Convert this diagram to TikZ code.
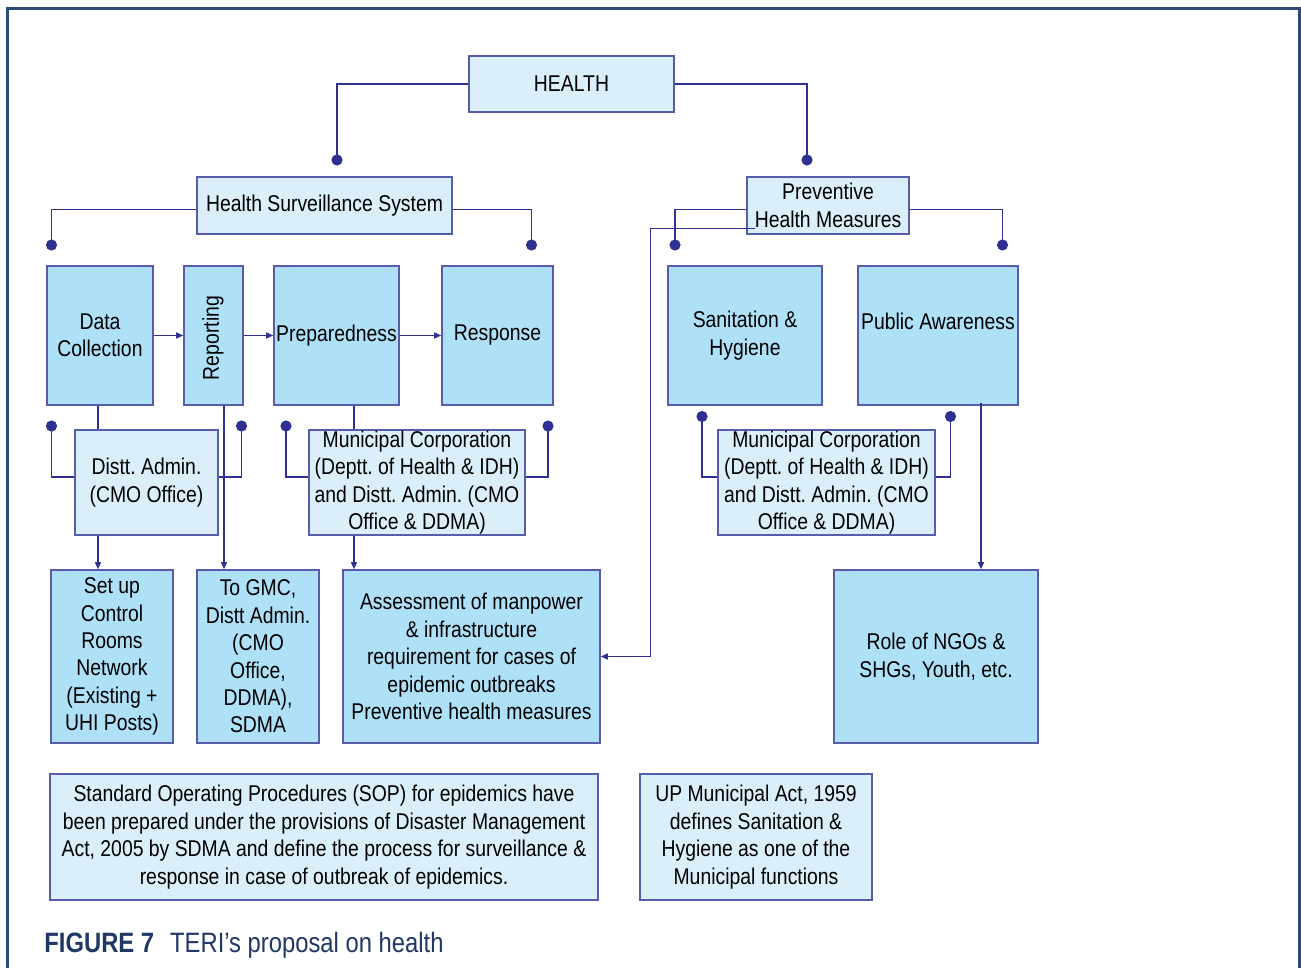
\documentclass[tikz,border=0pt]{standalone}
\usepackage{fontspec}
\setmainfont{Liberation Sans}[FakeStretch=0.85]
\frenchspacing
\usetikzlibrary{arrows.meta}
\definecolor{framecol}{RGB}{44,74,118}
\definecolor{linecol}{RGB}{46,49,146}
\definecolor{edgecol}{RGB}{88,92,172}
\definecolor{palefill}{RGB}{219,239,251}
\definecolor{bluefill}{RGB}{174,225,248}
\definecolor{capcol}{RGB}{31,56,100}
\begin{document}
\begin{tikzpicture}[x=0.5pt, y=-0.5pt, >={Triangle[length=3.5pt,width=3pt]},
    font=\fontsize{11.4}{13.7}\selectfont,
    box/.style={draw=edgecol, line width=0.8pt, align=center, inner sep=0pt},
    pale/.style={box, fill=palefill},
    mainbox/.style={box, fill=bluefill, minimum height=69.5pt},
    lowbox/.style={box, fill=bluefill, minimum height=86.5pt},
    link/.style={draw=linecol, line width=0.7pt}]
    \fill[white] (0,0) rectangle (1301,968);
    \useasboundingbox (0,0) rectangle (1301,968);

    % Frame
    \draw[framecol, line width=1.5pt] (7.5,968) -- (7.5,9) -- (1299.5,9) -- (1299.5,968);

    % Top levels
    \node[pale, minimum width=102.5pt, minimum height=28pt] (health) at (571.5,84) {HEALTH};
    \node[pale, minimum width=127.5pt, minimum height=28.5pt] (hss) at (324.5,205.5) {Health Surveillance System};
    \node[pale, minimum width=81pt, minimum height=28.5pt] (phm) at (828,205.5) {Preventive\\Health Measures};

    % Second row
    \node[mainbox, minimum width=53pt] (datacol) at (100,335.5) {Data\\Collection};
    \node[mainbox, minimum width=29.5pt] (report) at (213.5,335.5) {};
    \node[rotate=90] (reportlbl) at (213,338) {Reporting};
    \node[mainbox, minimum width=62.5pt] (prep) at (336.5,335.5) {Preparedness};
    \node[mainbox, minimum width=55.5pt] (resp) at (497.5,335.5) {Response};
    \node[mainbox, minimum width=77pt] (sanit) at (745,335.5) {Sanitation \&\\Hygiene};
    \node[mainbox, minimum width=80pt] (public) at (938,335.5) {Public Awareness\\\phantom{Collection}};

    % Agencies
    \node[pale, minimum width=71.5pt, minimum height=52.5pt] (distt) at (146.5,482.5) {Distt. Admin.\\(CMO Office)};
    \node[pale, minimum width=108pt, minimum height=52.5pt] (muniA) at (417,482.5)
        {Municipal Corporation\\(Deptt. of Health \& IDH)\\and Distt. Admin. (CMO\\Office \& DDMA)};
    \node[pale, minimum width=108.5pt, minimum height=52.5pt] (muniB) at (826.5,482.5)
        {Municipal Corporation\\(Deptt. of Health \& IDH)\\and Distt. Admin. (CMO\\Office \& DDMA)};

    % Bottom row
    \node[lowbox, minimum width=61pt] (setup) at (112,656.5) {Set up\\Control\\Rooms\\Network\\(Existing +\\UHI Posts)};
    \node[lowbox, minimum width=61pt] (gmc) at (258,656.5) {To GMC,\\Distt Admin.\\(CMO\\Office,\\DDMA),\\SDMA};
    \node[lowbox, minimum width=128.5pt] (assess) at (471.5,656.5)
        {Assessment of manpower\\\& infrastructure\\requirement for cases of\\epidemic outbreaks\\Preventive health measures};
    \node[lowbox, minimum width=102pt] (ngo) at (936,656.5) {Role of NGOs \&\\SHGs, Youth, etc.};

    % Notes
    \node[pale, minimum width=274pt, minimum height=63pt] (sop) at (324,837)
        {Standard Operating Procedures (SOP) for epidemics have\\been prepared under the provisions of Disaster Management\\Act, 2005 by SDMA and define the process for surveillance \&\\response in case of outbreak of epidemics.};
    \node[pale, minimum width=116pt, minimum height=63pt] (upact) at (756,837)
        {UP Municipal Act, 1959\\defines Sanitation \&\\Hygiene as one of the\\Municipal functions};

    % Caption
    \node[anchor=base west, inner sep=0pt, text=capcol, font=\fontsize{14}{16}\selectfont] (caption) at (44,952)
        {\textbf{FIGURE 7}\hspace{8pt}TERI’s proposal on health};

    % Branch points
    \coordinate (dotA) at (337,160);
    \coordinate (dotB) at (807,160);
    \coordinate (dotC) at (51.5,245);
    \coordinate (dotD) at (531.5,245);
    \coordinate (dotE) at (675,245);
    \coordinate (dotF) at (1002.5,245);
    \coordinate (dotG) at (51.5,426);
    \coordinate (dotH) at (241.5,426);
    \coordinate (dotI) at (286,426);
    \coordinate (dotJ) at (548,426);
    \coordinate (dotK) at (702,416.5);
    \coordinate (dotL) at (950.5,416.5);

    % Tree links
    \draw[link] (health.west) -| (dotA);
    \draw[link] (health.east) -| (dotB);
    \draw[link] ([yshift=-2pt]hss.west) -| (dotC);
    \draw[link] ([yshift=-2pt]hss.east) -| (dotD);
    \draw[link] ([yshift=-2pt]phm.west) -| (dotE);
    \draw[link] ([yshift=-2pt]phm.east) -| (dotF);
    \draw[link] (dotG) |- ([yshift=2.75pt]distt.west);
    \draw[link] (dotH) |- ([yshift=2.75pt]distt.east);
    \draw[link] (dotI) |- ([yshift=2.75pt]muniA.west);
    \draw[link] (dotJ) |- ([yshift=2.75pt]muniA.east);
    \draw[link] (dotK) |- ([yshift=2.75pt]muniB.west);
    \draw[link] (dotL) |- ([yshift=2.75pt]muniB.east);
    \fill[linecol] (dotA) circle (2.8pt) (dotB) circle (2.8pt) (dotC) circle (2.8pt)
        (dotD) circle (2.8pt) (dotE) circle (2.8pt) (dotF) circle (2.8pt)
        (dotG) circle (2.8pt) (dotH) circle (2.8pt) (dotI) circle (2.8pt)
        (dotJ) circle (2.8pt) (dotK) circle (2.8pt) (dotL) circle (2.8pt);

    % Process flow
    \draw[link,->] (datacol.east) -- (report.west);
    \draw[link,->] (report.east) -- (prep.west);
    \draw[link,->] (prep.east) -- (resp.west);

    % Downward links
    \coordinate (dctap) at ([xshift=-1pt]datacol.south);
    \coordinate (reptap) at ([xshift=5.25pt]report.south);
    \coordinate (preptap) at ([xshift=8.75pt]prep.south);
    \coordinate (pubtap) at ([xshift=21.5pt,yshift=1.5pt]public.south);
    \draw[link] (dctap) -- (dctap |- distt.north);
    \draw[link,->] (distt.south -| dctap) -- (setup.north -| dctap);
    \draw[link,->] (reptap) -- (reptap |- gmc.north);
    \draw[link] (preptap) -- (preptap |- muniA.north);
    \draw[link,->] (muniA.south -| preptap) -- (assess.north -| preptap);
    \draw[link,->] (pubtap) -- (pubtap |- ngo.north);

    % Preventive measures feed into assessment
    \draw[link,->] ([xshift=4.5pt,yshift=3pt]phm.south west) -- ++(-105,0) |- (assess.east);
\end{tikzpicture}
\end{document}
